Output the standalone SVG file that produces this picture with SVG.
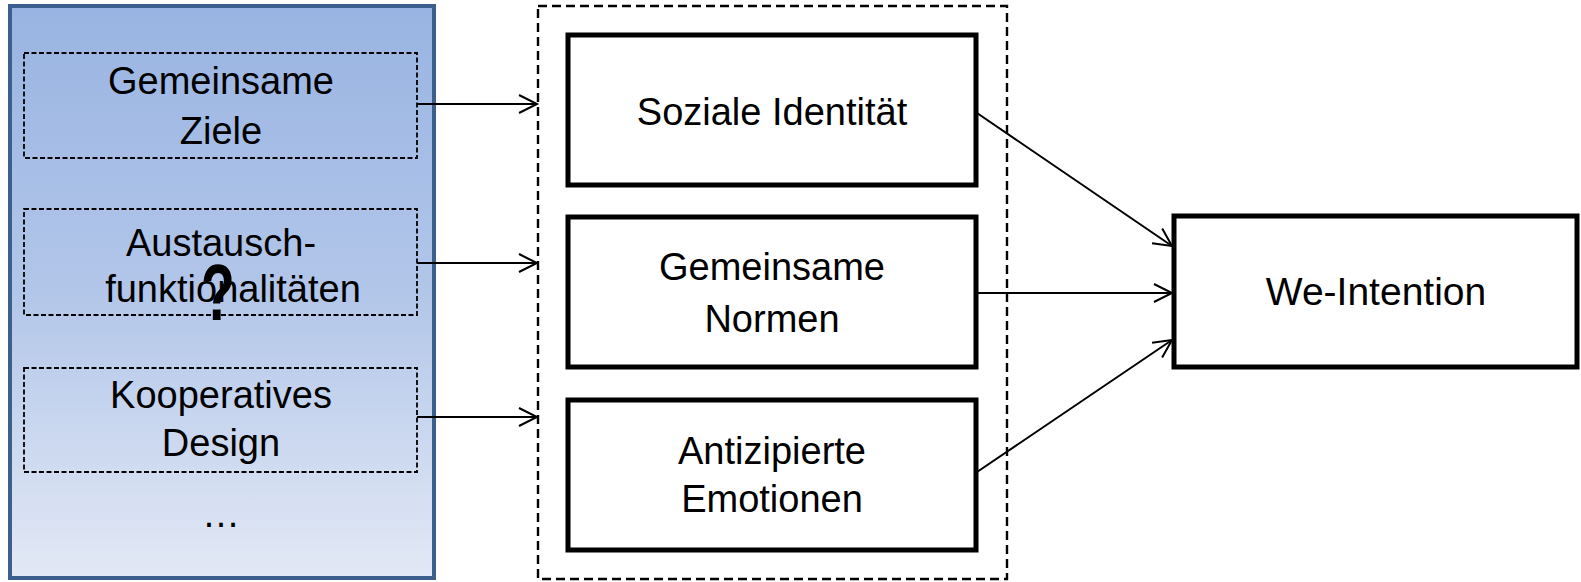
<svg xmlns="http://www.w3.org/2000/svg" width="1581" height="582" viewBox="0 0 1581 582">
<defs>
<linearGradient id="blue" x1="0" y1="0" x2="0" y2="1">
<stop offset="0" stop-color="#99b4e2"/>
<stop offset="0.5" stop-color="#b2c6e9"/>
<stop offset="1" stop-color="#e3e9f5"/>
</linearGradient>
<marker id="arr" markerWidth="24" markerHeight="24" refX="19" refY="10" orient="auto" markerUnits="userSpaceOnUse" viewBox="0 0 24 20">
<path d="M1,1 L19,10 L1,19" fill="none" stroke="#000" stroke-width="2"/>
</marker>
</defs>
<style>
text{font-family:"Liberation Sans",Arial,sans-serif;font-size:38px;fill:#000;text-anchor:middle}
.dash{fill:none;stroke:#000;stroke-width:1.8;stroke-dasharray:5,2.5}
.outer{fill:none;stroke:#000;stroke-width:2.4;stroke-dasharray:9,5}
.box{fill:#fff;stroke:#000;stroke-width:5}
.conn{fill:none;stroke:#000;stroke-width:2;marker-end:url(#arr)}
</style>
<rect x="0" y="0" width="1581" height="582" fill="#fff"/>
<g id="panel">
<rect x="10" y="6" width="424" height="572" fill="url(#blue)" stroke="#3d5f8e" stroke-width="4"/>
</g>
<g id="n-ziele">
<rect class="dash" x="24" y="53" width="393" height="105"/>
<text x="221" y="94">Gemeinsame</text>
<text x="221" y="144">Ziele</text>
</g>
<g id="n-austausch">
<rect class="dash" x="24" y="209" width="393" height="106"/>
<text x="221" y="256">Austausch-</text>
<text x="233" y="302">funktionalitäten</text>
</g>
<g id="question">
<text x="0" y="0" transform="translate(218,320) scale(0.7,1)" style="font-weight:bold;font-size:79px">?</text>
</g>
<g id="n-design">
<rect class="dash" x="24" y="368" width="393" height="104"/>
<text x="221" y="408">Kooperatives</text>
<text x="221" y="456">Design</text>
</g>
<g id="more">
<text x="221" y="527">…</text>
</g>
<g id="middle-group">
<rect class="outer" x="538" y="6" width="469" height="573"/>
</g>
<g id="n-identitaet">
<rect class="box" x="568" y="35" width="408" height="150"/>
<text x="772" y="125">Soziale Identität</text>
</g>
<g id="n-normen">
<rect class="box" x="568" y="217" width="408" height="150"/>
<text x="772" y="280">Gemeinsame</text>
<text x="772" y="332">Normen</text>
</g>
<g id="n-emotionen">
<rect class="box" x="568" y="400" width="408" height="150"/>
<text x="772" y="464">Antizipierte</text>
<text x="772" y="512">Emotionen</text>
</g>
<g id="n-we">
<rect class="box" x="1174" y="216" width="403" height="151"/>
<text x="1376" y="305" style="font-size:39px">We-Intention</text>
</g>
<g id="connectors">
<line class="conn" x1="417" y1="104" x2="537" y2="104"/>
<line class="conn" x1="417" y1="263" x2="537" y2="263"/>
<line class="conn" x1="417" y1="417" x2="537" y2="417"/>
<line class="conn" x1="977" y1="113" x2="1172" y2="246"/>
<line class="conn" x1="977" y1="293" x2="1172" y2="293"/>
<line class="conn" x1="977" y1="472" x2="1172" y2="340"/>
</g>
</svg>
